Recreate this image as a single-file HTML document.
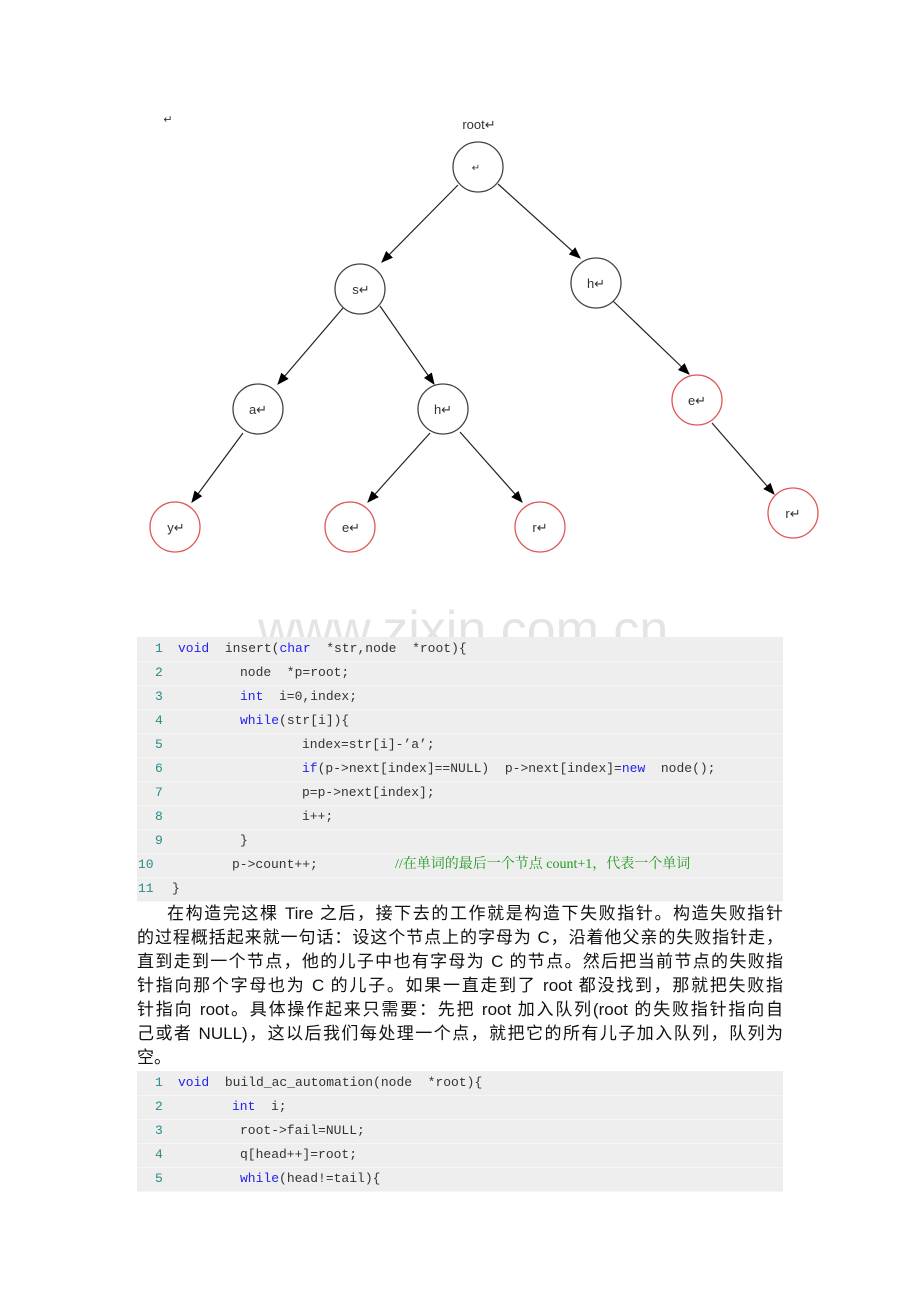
<!DOCTYPE html>
<html><head><meta charset="utf-8"><style>
body{margin:0;background:#fff;width:920px;height:1302px;position:relative;overflow:hidden;font-family:"Liberation Sans","Noto Sans CJK SC",sans-serif}
.code{position:absolute;left:137px;width:646px;background:#eeeeee;font-family:"Liberation Mono","Noto Serif CJK SC",monospace;font-size:13px;color:#333}
.ln{position:absolute;height:24px;line-height:24px;left:0;right:0;border-bottom:1px solid #f6f6f6;white-space:pre}
.t{position:absolute;top:0}
.n{position:absolute;left:18px;top:0;color:#2a8a8a}
.k{color:#2222ee}.c{color:#229922;font-family:"Liberation Serif","Noto Serif CJK SC",serif;font-size:14px}
.p{position:absolute;left:137px;width:646px;font-size:17px;line-height:24px;color:#111;text-align:justify;text-align-last:justify;white-space:nowrap}
</style></head><body>
<svg width="920" height="600" style="position:absolute;left:0;top:0" font-family="Liberation Sans" font-size="13">
<defs><marker id="a" markerWidth="10" markerHeight="10" refX="9" refY="5" orient="auto"><path d="M0,1 L10,5 L0,9z" fill="#000"/></marker></defs>
<g stroke="#222" stroke-width="1.2" marker-end="url(#a)">
<line x1="458" y1="185" x2="382" y2="262"/>
<line x1="498" y1="184" x2="580" y2="258"/>
<line x1="343" y1="308" x2="278" y2="384"/>
<line x1="380" y1="306" x2="434" y2="384"/>
<line x1="613" y1="301" x2="689" y2="374"/>
<line x1="243" y1="433" x2="192" y2="502"/>
<line x1="430" y1="433" x2="368" y2="502"/>
<line x1="460" y1="432" x2="522" y2="502"/>
<line x1="712" y1="423" x2="774" y2="494"/>
</g>
<g fill="#fff" stroke-width="1.3">
<circle cx="478" cy="167" r="25" stroke="#444"/>
<circle cx="360" cy="289" r="25" stroke="#444"/>
<circle cx="596" cy="283" r="25" stroke="#444"/>
<circle cx="258" cy="409" r="25" stroke="#444"/>
<circle cx="443" cy="409" r="25" stroke="#444"/>
<circle cx="697" cy="400" r="25" stroke="#e05555"/>
<circle cx="175" cy="527" r="25" stroke="#e05555"/>
<circle cx="350" cy="527" r="25" stroke="#e05555"/>
<circle cx="540" cy="527" r="25" stroke="#e05555"/>
<circle cx="793" cy="513" r="25" stroke="#e05555"/>
</g>
<g fill="#333" text-anchor="middle">
<text x="479" y="129">root↵</text><text x="168" y="123" font-size="11">↵</text>
<text x="476" y="171" font-size="10">↵</text>
<text x="361" y="294">s↵</text><text x="596" y="288">h↵</text>
<text x="258" y="414">a↵</text><text x="443" y="414">h↵</text>
<text x="697" y="405">e↵</text><text x="176" y="532">y↵</text>
<text x="351" y="532">e↵</text><text x="540" y="532">r↵</text><text x="793" y="518">r↵</text>
</g>
</svg>
<div style="position:absolute;left:258px;top:600px;font-size:52px;line-height:60px;color:#e4e4e4;font-family:'Liberation Sans'">www.zixin.com.cn</div>
<div class="code" style="top:637px;height:264px">
<div class="ln" style="top:0"><span class="n">1</span><span class="t" style="left:41px"><span class="k">void</span>  insert(<span class="k">char</span>  *str,node  *root){</span></div>
<div class="ln" style="top:24px"><span class="n">2</span><span class="t" style="left:103px">node  *p=root;</span></div>
<div class="ln" style="top:48px"><span class="n">3</span><span class="t" style="left:103px"><span class="k">int</span>  i=0,index;</span></div>
<div class="ln" style="top:72px"><span class="n">4</span><span class="t" style="left:103px"><span class="k">while</span>(str[i]){</span></div>
<div class="ln" style="top:96px"><span class="n">5</span><span class="t" style="left:165px">index=str[i]-’a’;</span></div>
<div class="ln" style="top:120px"><span class="n">6</span><span class="t" style="left:165px"><span class="k">if</span>(p-&gt;next[index]==NULL)  p-&gt;next[index]=<span class="k">new</span>  node();</span></div>
<div class="ln" style="top:144px"><span class="n">7</span><span class="t" style="left:165px">p=p-&gt;next[index];</span></div>
<div class="ln" style="top:168px"><span class="n">8</span><span class="t" style="left:165px">i++;</span></div>
<div class="ln" style="top:192px"><span class="n">9</span><span class="t" style="left:103px">}</span></div>
<div class="ln" style="top:216px"><span class="n" style="left:1px">10</span><span class="t" style="left:95px">p-&gt;count++;</span><span class="t c" style="left:258px">//在单词的最后一个节点 count+1，代表一个单词</span></div>
<div class="ln" style="top:240px"><span class="n" style="left:1px">11</span><span class="t" style="left:35px">}</span></div>
</div>
<div class="p" style="top:902px;left:167px;width:616px">在构造完这棵 Tire 之后，接下去的工作就是构造下失败指针。构造失败指针</div>
<div class="p" style="top:926px">的过程概括起来就一句话：设这个节点上的字母为 C，沿着他父亲的失败指针走，</div>
<div class="p" style="top:950px">直到走到一个节点，他的儿子中也有字母为 C 的节点。然后把当前节点的失败指</div>
<div class="p" style="top:974px">针指向那个字母也为 C 的儿子。如果一直走到了 root 都没找到，那就把失败指</div>
<div class="p" style="top:998px">针指向 root。具体操作起来只需要：先把 root 加入队列(root 的失败指针指向自</div>
<div class="p" style="top:1022px">己或者 NULL)，这以后我们每处理一个点，就把它的所有儿子加入队列，队列为</div>
<div class="p" style="top:1046px;text-align-last:left">空。</div>
<div class="code" style="top:1071px;height:120px">
<div class="ln" style="top:0"><span class="n">1</span><span class="t" style="left:41px"><span class="k">void</span>  build_ac_automation(node  *root){</span></div>
<div class="ln" style="top:24px"><span class="n">2</span><span class="t" style="left:95px"><span class="k">int</span>  i;</span></div>
<div class="ln" style="top:48px"><span class="n">3</span><span class="t" style="left:103px">root-&gt;fail=NULL;</span></div>
<div class="ln" style="top:72px"><span class="n">4</span><span class="t" style="left:103px">q[head++]=root;</span></div>
<div class="ln" style="top:96px"><span class="n">5</span><span class="t" style="left:103px"><span class="k">while</span>(head!=tail){</span></div>
</div>
</body></html>
